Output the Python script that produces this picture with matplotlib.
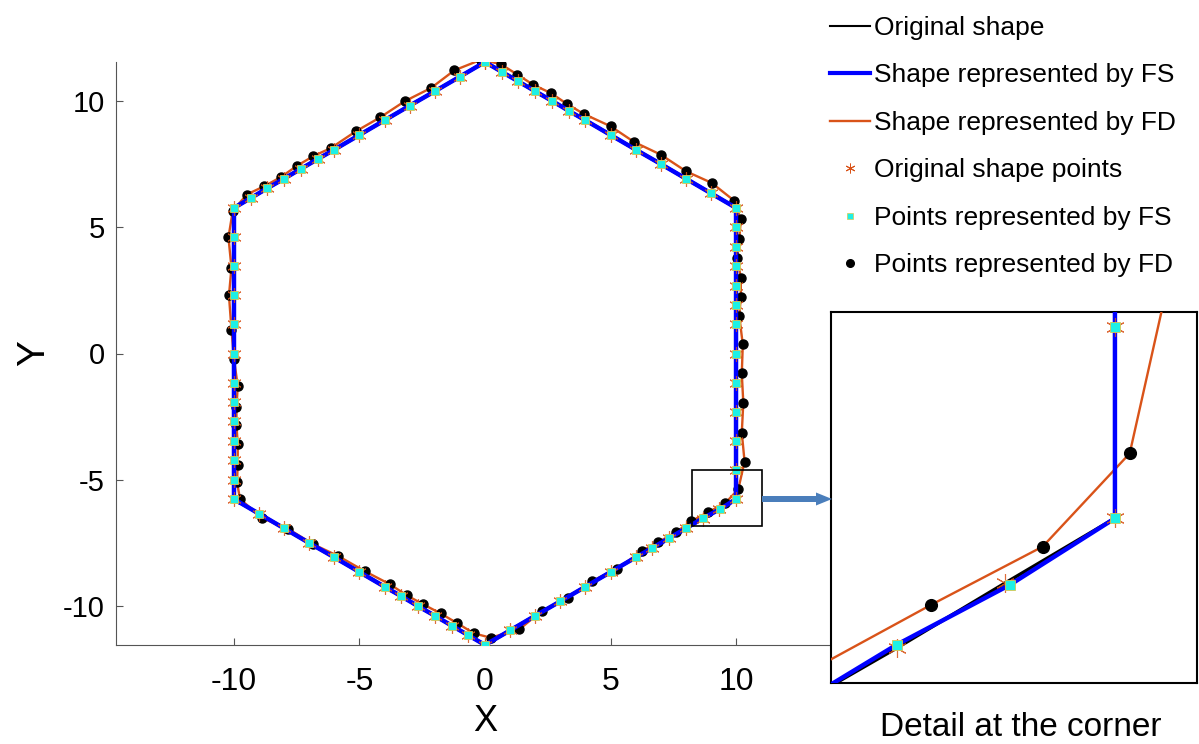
import matplotlib.pyplot as plt
from matplotlib.patches import Rectangle, FancyArrow
from matplotlib.lines import Line2D

plt.rcParams['font.family'] = ['Liberation Sans', 'DejaVu Sans']
plt.rcParams['axes.unicode_minus'] = False

# original hexagon sample points, clockwise from the top vertex
orig_x = [0, 0.67, 1.33, 2.0, 2.67, 3.33, 4.0, 5.0, 6.0, 7.0, 8.0, 9.0, 10.0,
          10.0, 10.0, 10.0, 10.0, 10.0, 10.0, 10.0, 10.0, 10.0, 10.0, 10.0, 10.0,
          9.33, 8.67, 8.0, 7.33, 6.67, 6.0, 5.0, 4.0, 3.0, 2.0, 1.0, 0,
          -0.67, -1.33, -2.0, -2.67, -3.33, -4.0, -5.0, -6.0, -7.0, -8.0, -9.0, -10.0,
          -10.0, -10.0, -10.0, -10.0, -10.0, -10.0, -10.0, -10.0, -10.0, -10.0, -10.0, -10.0,
          -9.33, -8.67, -8.0, -7.33, -6.67, -6.0, -5.0, -4.0, -3.0, -2.0, -1.0, 0]
orig_y = [11.55, 11.16, 10.78, 10.39, 10.01, 9.62, 9.24, 8.66, 8.08, 7.51, 6.93, 6.35, 5.77,
          5.0, 4.23, 3.46, 2.69, 1.92, 1.15, 0.0, -1.15, -2.31, -3.46, -4.62, -5.77,
          -6.16, -6.55, -6.93, -7.32, -7.70, -8.08, -8.66, -9.24, -9.82, -10.39, -10.97, -11.55,
          -11.16, -10.78, -10.39, -10.01, -9.62, -9.24, -8.66, -8.08, -7.51, -6.93, -6.35, -5.77,
          -5.0, -4.23, -3.46, -2.69, -1.92, -1.15, 0.0, 1.15, 2.31, 3.46, 4.62, 5.77,
          6.16, 6.55, 6.93, 7.32, 7.70, 8.08, 8.66, 9.24, 9.82, 10.39, 10.97, 11.55]

# points represented by FS (almost on top of the original ones)
fs_x = [0, 0.67, 1.33, 2.0, 2.67, 3.33, 4.0, 5.0, 6.0, 7.0, 8.0, 9.0, 10.0,
        10.0, 10.0, 10.0, 10.0, 10.0, 10.0, 10.0, 10.0, 10.0, 10.0, 10.0, 10.0,
        9.36, 8.67, 8.0, 7.33, 6.67, 6.0, 5.0, 4.0, 3.0, 2.0, 1.0, 0,
        -0.67, -1.33, -2.0, -2.67, -3.33, -4.0, -5.0, -6.0, -7.0, -8.0, -9.0, -10.0,
        -10.0, -10.0, -10.0, -10.0, -10.0, -10.0, -10.0, -10.0, -10.0, -10.0, -10.0, -10.0,
        -9.33, -8.67, -8.0, -7.33, -6.67, -6.0, -5.0, -4.0, -3.0, -2.0, -1.0, 0]
fs_y = [11.55, 11.16, 10.78, 10.39, 10.01, 9.62, 9.24, 8.66, 8.08, 7.51, 6.93, 6.35, 5.77,
        5.0, 4.23, 3.46, 2.69, 1.92, 1.15, 0.0, -1.15, -2.31, -3.46, -4.62, -5.77,
        -6.17, -6.53, -6.93, -7.32, -7.70, -8.08, -8.66, -9.24, -9.82, -10.39, -10.97, -11.55,
        -11.16, -10.78, -10.39, -10.01, -9.62, -9.24, -8.66, -8.08, -7.51, -6.93, -6.35, -5.77,
        -5.0, -4.23, -3.46, -2.69, -1.92, -1.15, 0.0, 1.15, 2.31, 3.46, 4.62, 5.77,
        6.16, 6.55, 6.93, 7.32, 7.70, 8.08, 8.66, 9.24, 9.82, 10.39, 10.97, 11.55]

# points represented by FD
fd_x = [-0.16, 0.62, 1.29, 1.92, 2.62, 3.28, 3.94, 5.01, 5.94, 7.0, 8.01, 9.03, 9.92,
        10.19, 10.13, 10.05, 10.19, 10.19, 10.13, 10.27, 10.23, 10.29, 10.23, 10.34, 10.09,
        9.56, 8.88, 8.21, 7.61, 6.91, 6.24, 5.27, 4.25, 3.32, 2.26, 1.37, 0.22,
        -0.44, -1.10, -1.77, -2.46, -3.12, -3.78, -4.80, -5.84, -6.84, -7.84, -8.90, -9.76,
        -9.88, -9.85, -9.85, -9.90, -9.90, -9.85, -10.0, -10.1, -10.2, -10.1, -10.22, -10.05,
        -9.49, -8.79, -8.13, -7.50, -6.84, -6.14, -5.15, -4.17, -3.19, -2.15, -1.22, -0.16]
fd_y = [11.64, 11.47, 11.05, 10.65, 10.32, 9.88, 9.49, 9.0, 8.38, 7.88, 7.22, 6.76, 6.06,
        5.31, 4.54, 3.79, 3.0, 2.25, 1.48, 0.36, -0.79, -1.95, -3.14, -4.28, -5.38,
        -5.94, -6.29, -6.65, -7.08, -7.47, -7.83, -8.53, -9.02, -9.68, -10.2, -10.93, -11.26,
        -11.09, -10.69, -10.30, -9.94, -9.58, -9.15, -8.62, -8.03, -7.56, -6.95, -6.51, -5.76,
        -5.1, -4.4, -3.6, -2.85, -2.1, -1.3, -0.2, 0.95, 2.3, 3.4, 4.6, 5.65,
        6.30, 6.63, 6.99, 7.43, 7.82, 8.14, 8.80, 9.36, 10.0, 10.52, 11.22, 11.64]

x_ticks = [-10, -5, 0, 5, 10]
y_ticks = [-10, -5, 0, 5, 10]
legend_labels = ['Original shape', 'Shape represented by FS', 'Shape represented by FD',
                 'Original shape points', 'Points represented by FS', 'Points represented by FD']

orange = '#D95319'
blue = '#0000FF'
cyan = '#1EF0E6'
star = (6, 2, 0)   # six-armed asterisk like MATLAB '*'
W, H = 1199, 744


def draw_shapes(ax, k=1.0):
    ax.plot(orig_x, orig_y, color='black', lw=2.5, zorder=2)
    ax.plot(fd_x, fd_y, color=orange, lw=1.7, zorder=3)
    ax.plot(fd_x, fd_y, 'o', color='black', ms=6.5 * k, zorder=3.5)
    ax.plot(fs_x, fs_y, color=blue, lw=3.2, zorder=4)
    ax.plot(orig_x, orig_y, ls='', marker=star, color=orange, ms=10.5 * k, mew=0.8,
            alpha=0.85, zorder=5)
    ax.plot(fs_x, fs_y, 's', mfc=cyan, mec='#D8C850', mew=0.6, ms=5.5 * k, zorder=6)


fig = plt.figure(figsize=(W / 100, H / 100), dpi=100)

ax = fig.add_axes([116 / W, 99 / H, 738 / W, 583 / H])
draw_shapes(ax)
ax.set_xlim(-14.7, 14.7)
ax.set_ylim(-11.55, 11.55)
ax.set_xticks(x_ticks)
ax.set_yticks(y_ticks)
for s in ['top', 'right']:
    ax.spines[s].set_visible(False)
for s in ['left', 'bottom']:
    ax.spines[s].set_color('#555555')
ax.tick_params(direction='in', length=5, color='#555555')
ax.tick_params(axis='x', labelsize=23, pad=16)
ax.tick_params(axis='y', labelsize=21, pad=8)
ax.set_xlabel('X', fontsize=26, labelpad=5)
ax.set_ylabel('Y', fontsize=28, labelpad=8)
ax.add_patch(Rectangle((8.23, -6.84), 2.79, 2.22, fill=False, ec='black', lw=1.2, zorder=10))

# zoomed detail of the lower right corner
ins = fig.add_axes([831 / W, 61 / H, 366 / W, 371 / H])
draw_shapes(ins, k=1.3)
ins.set_xlim(8.27, 10.5)
ins.set_ylim(-6.76, -4.53)
ins.set_xticks([])
ins.set_yticks([])
for s in ins.spines.values():
    s.set_linewidth(1.5)

fig.add_artist(FancyArrow(762 / W, 1 - 499 / H, 70 / W, 0, width=6 / H, head_width=13 / H,
                          head_length=16 / W, length_includes_head=True,
                          transform=fig.transFigure, color='#4A7EBB', lw=0))

fig.text(1021 / W, 1 - 728 / H, 'Detail at the corner', ha='center', va='center', fontsize=24)

handles = [Line2D([], [], color='black', lw=1.5),
           Line2D([], [], color=blue, lw=3),
           Line2D([], [], color=orange, lw=1.7),
           Line2D([], [], ls='', marker=star, color=orange, ms=7, mew=0.7),
           Line2D([], [], ls='', marker='s', mfc=cyan, mec='#D8C850', mew=0.5, ms=5),
           Line2D([], [], ls='', marker='o', color='black', ms=5.5)]
fig.legend(handles, legend_labels, loc='upper left', bbox_to_anchor=(830 / W, 1 - 16 / H),
           frameon=False, fontsize=19, handlelength=1.5, handletextpad=0.15,
           labelspacing=0.89, borderaxespad=0, borderpad=0)

fig.savefig('out.png', dpi=100)
